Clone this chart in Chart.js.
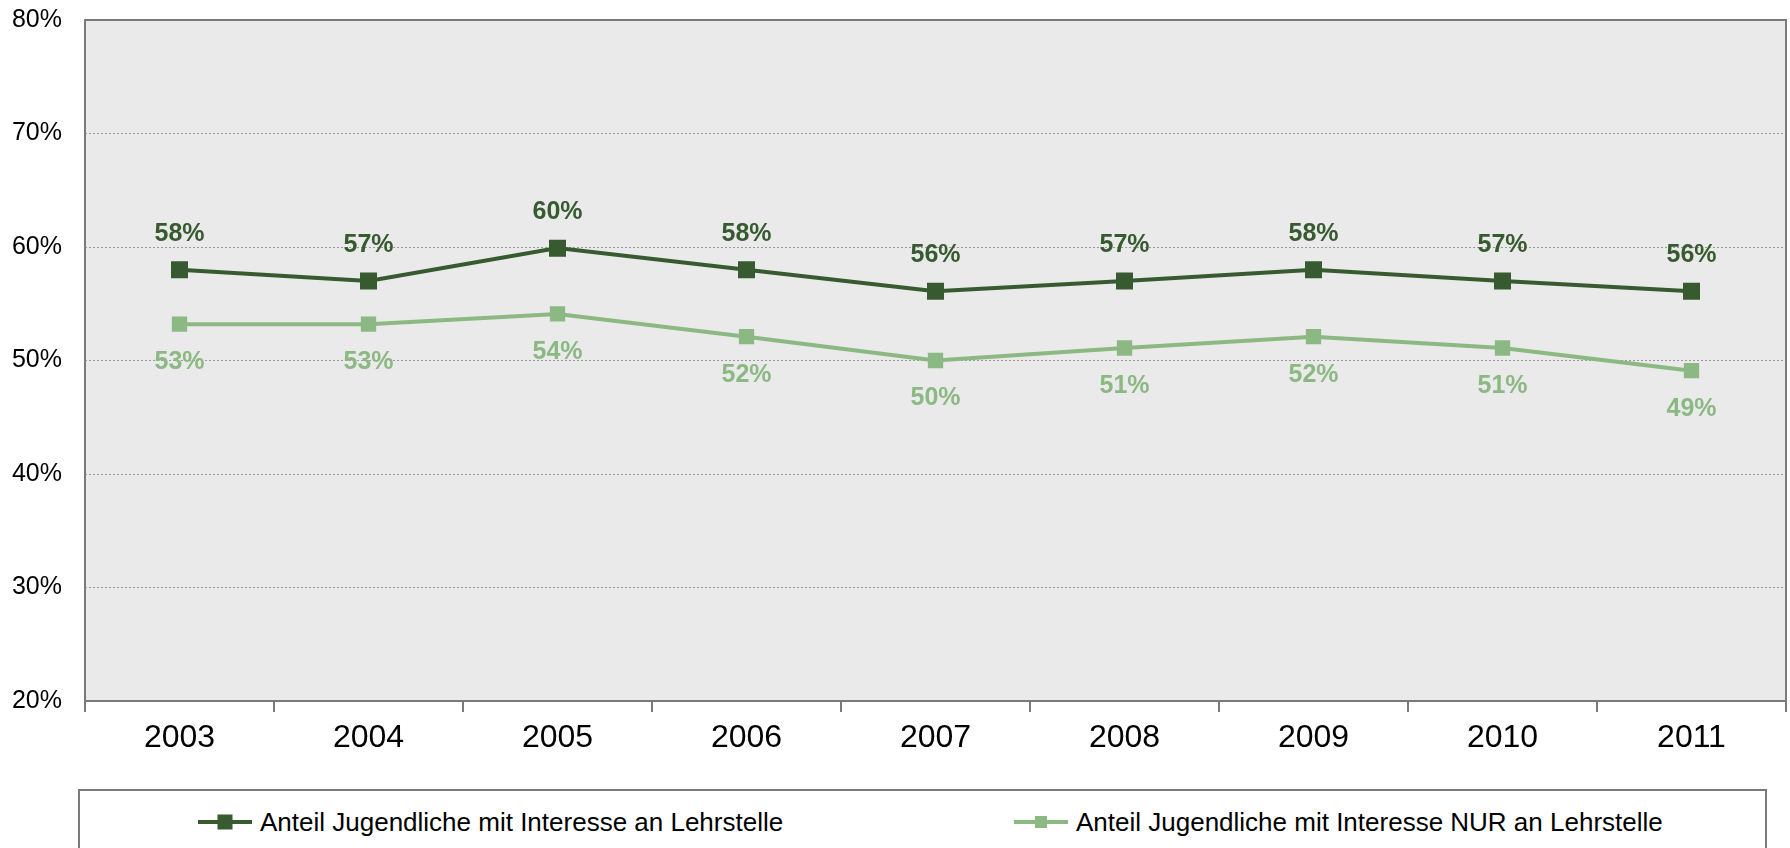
<!DOCTYPE html>
<html>
<head>
<meta charset="utf-8">
<script src="https://cdn.jsdelivr.net/npm/chart.js@4/dist/chart.umd.min.js"></script>
<style>
  html, body { margin: 0; padding: 0; background: #fff; overflow: hidden; }
  #wrap { position: relative; width: 1790px; height: 848px; }
  #legend {
    position: absolute; left: 78px; top: 789px; width: 1689px; height: 100px;
    border: 2px solid #7a7a7a; box-sizing: border-box; background: #fff;
    font-family: "Liberation Sans", Arial, sans-serif; font-size: 26px; color: #000;
  }
  .item { position: absolute; top: 15px; display: flex; align-items: center; height: 32px; }
  .sym { position: relative; width: 54px; height: 32px; margin-right: 8px; }
  .sym .ln { position: absolute; left: 0; right: 0; top: 14px; height: 4px; }
  .sym .mk { position: absolute; left: 50%; top: 50%; transform: translate(-50%, -50%); }
</style>
</head>
<body>
<div id="wrap">
  <canvas id="chart" width="1790" height="848"></canvas>
  <div id="legend"></div>
</div>
<script>
const years = ['2003', '2004', '2005', '2006', '2007', '2008', '2009', '2010', '2011']
const interestValues = [58.0, 57.0, 59.9, 58.0, 56.1, 57.0, 58.0, 57.0, 56.1]
const onlyValues = [53.2, 53.2, 54.1, 52.1, 50.0, 51.1, 52.1, 51.1, 49.1]
const seriesNames = [
  'Anteil Jugendliche mit Interesse an Lehrstelle',
  'Anteil Jugendliche mit Interesse NUR an Lehrstelle'
]
const yTicks = [20, 30, 40, 50, 60, 70, 80]

const darkGreen = '#375a30'
const lightGreen = '#8cb883'
const fontFamily = '"Liberation Sans", Arial, sans-serif'

// plot background + frame
const plotFrame = {
  id: 'plotFrame',
  beforeDraw(chart) {
    const { ctx, chartArea: a } = chart
    ctx.save()
    ctx.fillStyle = '#eaeaea'
    ctx.fillRect(a.left, a.top, a.right - a.left, a.bottom - a.top)
    ctx.restore()
  },
  beforeDatasetsDraw(chart) {
    const { ctx, chartArea: a } = chart
    ctx.save()
    ctx.strokeStyle = '#7a7a7a'
    ctx.lineWidth = 2
    ctx.strokeRect(a.left, a.top, a.right - a.left, a.bottom - a.top)
    ctx.restore()
  }
}

// value labels: dark series above, light series below
const valueLabels = {
  id: 'valueLabels',
  afterDatasetsDraw(chart) {
    const ctx = chart.ctx
    ctx.save()
    ctx.font = 'bold 25px ' + fontFamily
    ctx.textAlign = 'center'
    ctx.textBaseline = 'middle'
    chart.data.datasets.forEach((ds, i) => {
      const meta = chart.getDatasetMeta(i)
      ctx.fillStyle = ds.borderColor
      meta.data.forEach((pt, j) => {
        const off = i === 0 ? -36 : 38
        ctx.fillText(Math.round(ds.data[j]) + '%', pt.x, pt.y + off)
      })
    })
    ctx.restore()
  }
}

const chart = new Chart(document.getElementById('chart'), {
  type: 'line',
  data: {
    labels: years,
    datasets: [
      {
        label: seriesNames[0],
        data: interestValues,
        borderColor: darkGreen,
        backgroundColor: darkGreen,
        borderWidth: 4,
        pointStyle: 'rect',
        pointRadius: 9.2,
        pointHoverRadius: 9.2,
        tension: 0
      },
      {
        label: seriesNames[1],
        data: onlyValues,
        borderColor: lightGreen,
        backgroundColor: lightGreen,
        borderWidth: 4,
        pointStyle: 'rect',
        pointRadius: 8,
        pointHoverRadius: 8,
        tension: 0
      }
    ]
  },
  options: {
    responsive: false,
    animation: false,
    events: [],
    layout: { autoPadding: false, padding: { top: 20, right: 4, left: 0, bottom: 0 } },
    plugins: {
      legend: { display: false },
      tooltip: { enabled: false }
    },
    scales: {
      x: {
        offset: true,
        grid: {
          offset: true,
          drawOnChartArea: false,
          drawTicks: true,
          tickLength: 11,
          color: '#7a7a7a',
          lineWidth: 2
        },
        border: { display: false },
        ticks: {
          color: '#000',
          padding: 7,
          font: { family: fontFamily, size: 32 },
          maxRotation: 0
        },
        afterFit(scale) {
          scale.height = 147
          scale.paddingLeft = 0
          scale.paddingRight = 0
        }
      },
      y: {
        min: 20,
        max: 80,
        afterBuildTicks(scale) { scale.ticks = yTicks.map(v => ({ value: v })) },
        grid: {
          drawTicks: false,
          color: '#9a9a9a',
          lineWidth: 1
        },
        border: { display: false, dash: [2, 2] },
        ticks: {
          color: '#000',
          padding: 23,
          font: { family: fontFamily, size: 25 },
          callback: v => v + '%'
        },
        afterFit(scale) {
          scale.width = 85
          scale.paddingTop = 0
          scale.paddingBottom = 0
        }
      }
    }
  },
  plugins: [plotFrame, valueLabels]
})

// HTML legend built from the chart's datasets
const legendEl = document.getElementById('legend')
const itemLefts = [118, 934]
chart.data.datasets.forEach((ds, i) => {
  const item = document.createElement('div')
  item.className = 'item'
  item.style.left = itemLefts[i] + 'px'
  const sym = document.createElement('div')
  sym.className = 'sym'
  const ln = document.createElement('div')
  ln.className = 'ln'
  ln.style.background = ds.borderColor
  const mk = document.createElement('div')
  mk.className = 'mk'
  const s = i === 0 ? 15 : 12
  mk.style.width = s + 'px'
  mk.style.height = s + 'px'
  mk.style.background = ds.borderColor
  sym.appendChild(ln)
  sym.appendChild(mk)
  const txt = document.createElement('span')
  txt.textContent = ds.label
  item.appendChild(sym)
  item.appendChild(txt)
  legendEl.appendChild(item)
})
</script>
</body>
</html>
